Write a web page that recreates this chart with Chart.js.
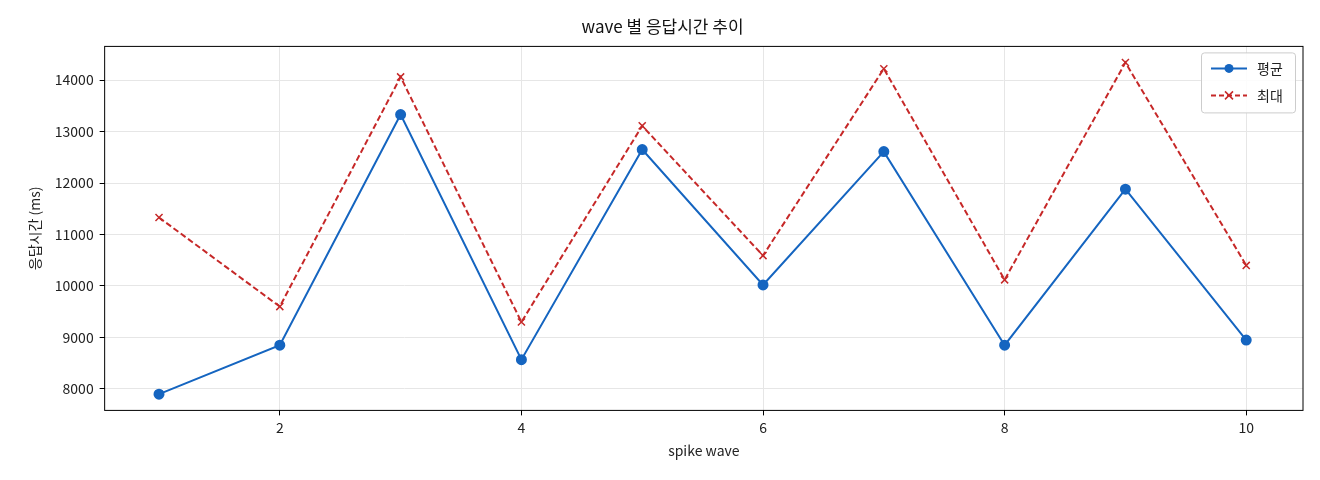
<!DOCTYPE html>
<html>
<head>
<meta charset="utf-8">
<script src="https://cdn.jsdelivr.net/npm/chart.js@4"></script>
<style>
  body { margin: 0; background: #fff; }
  #wrap { width: 1320px; height: 480px; }
</style>
</head>
<body>
<div id="wrap"><canvas id="chart"></canvas></div>
<script>
// wave 별 응답시간 추이

const waves = [1, 2, 3, 4, 5, 6, 7, 8, 9, 10];
const avgMs = [7900, 8850, 13330, 8570, 12650, 10020, 12610, 8850, 11880, 8950];
const maxMs = [11330, 9600, 14060, 9300, 13110, 10590, 14220, 10120, 14340, 10400];
const xTicks = [2, 4, 6, 8, 10];
const yTicks = [8000, 9000, 10000, 11000, 12000, 13000, 14000];

const FONT = "'Noto Sans CJK KR', 'DejaVu Sans', sans-serif";
Chart.defaults.font.family = FONT;
Chart.defaults.color = "#222";

// legend box drawn inside the plot, top right
const insideLegend = {
  id: "insideLegend",
  afterDraw(chart) {
    const ctx = chart.ctx;
    const area = chart.chartArea;
    const w = 94, h = 60;
    const x = area.right - w - 8, y = area.top + 6;
    ctx.save();
    ctx.fillStyle = "rgba(255,255,255,0.85)";
    ctx.strokeStyle = "#ccc";
    ctx.lineWidth = 1;
    ctx.beginPath();
    ctx.roundRect(x + 0.5, y + 0.5, w, h, 3);
    ctx.fill();
    ctx.stroke();

    const items = [
      { label: "평균", color: "#1565c0", dash: [], marker: "dot" },
      { label: "최대", color: "#c62828", dash: [5, 3], marker: "x" }
    ];
    items.forEach((it, i) => {
      const cy = y + 16 + i * 27;
      ctx.strokeStyle = it.color;
      ctx.lineWidth = 2;
      ctx.setLineDash(it.dash);
      ctx.beginPath();
      ctx.moveTo(x + 10, cy);
      ctx.lineTo(x + 46, cy);
      ctx.stroke();
      ctx.setLineDash([]);
      if (it.marker === "dot") {
        ctx.fillStyle = it.color;
        ctx.beginPath();
        ctx.arc(x + 28, cy, 4.5, 0, Math.PI * 2);
        ctx.fill();
      } else {
        ctx.lineWidth = 1.5;
        ctx.beginPath();
        ctx.moveTo(x + 24, cy - 4); ctx.lineTo(x + 32, cy + 4);
        ctx.moveTo(x + 32, cy - 4); ctx.lineTo(x + 24, cy + 4);
        ctx.stroke();
      }
      ctx.fillStyle = "#222";
      ctx.font = "14px " + FONT;
      ctx.textBaseline = "middle";
      ctx.fillText(it.label, x + 56, cy);
    });
    ctx.restore();
  }
};

// black frame around the plot area
const frame = {
  id: "frame",
  afterDraw(chart) {
    const a = chart.chartArea;
    const ctx = chart.ctx;
    ctx.save();
    ctx.strokeStyle = "#000";
    ctx.lineWidth = 1;
    ctx.strokeRect(a.left, a.top, a.right - a.left, a.bottom - a.top);
    ctx.restore();
  }
};

new Chart(document.getElementById("chart"), {
  type: "line",
  data: {
    datasets: [
      {
        label: "평균",
        data: waves.map((w, i) => ({ x: w, y: avgMs[i] })),
        borderColor: "#1565c0",
        backgroundColor: "#1565c0",
        borderWidth: 2,
        pointRadius: 4.5,
        pointStyle: "circle",
        tension: 0
      },
      {
        label: "최대",
        data: waves.map((w, i) => ({ x: w, y: maxMs[i] })),
        borderColor: "#c62828",
        backgroundColor: "#c62828",
        borderWidth: 2,
        borderDash: [6, 3],
        pointRadius: 5,
        pointStyle: "crossRot",
        pointBorderWidth: 1.5,
        tension: 0
      }
    ]
  },
  options: {
    responsive: true,
    maintainAspectRatio: false,
    animation: false,
    layout: { padding: { left: 22, right: 17, top: 6, bottom: 17 } },
    plugins: {
      legend: { display: false },
      tooltip: { enabled: false },
      title: {
        display: true,
        text: "wave 별 응답시간 추이",
        font: { size: 17, weight: "normal" },
        color: "#111",
        padding: { top: 10, bottom: 10 }
      }
    },
    scales: {
      x: {
        type: "linear",
        min: 0.55,
        max: 10.47,
        afterBuildTicks: axis => { axis.ticks = xTicks.map(v => ({ value: v })); },
        ticks: { font: { size: 14 }, color: "#222", padding: 4 },
        grid: { color: "#e6e6e6", tickLength: 5, tickColor: "#000" },
        border: { display: false },
        title: { display: true, text: "spike wave", font: { size: 14 }, color: "#222", padding: { top: 2 } }
      },
      y: {
        min: 7584,
        max: 14653,
        afterBuildTicks: axis => { axis.ticks = yTicks.map(v => ({ value: v })); },
        ticks: { font: { size: 14 }, color: "#222", padding: 6, callback: v => String(v) },
        grid: { color: "#e6e6e6", tickLength: 5, tickColor: "#000" },
        border: { display: false },
        title: { display: true, text: "응답시간 (ms)", font: { size: 14 }, color: "#222", padding: { bottom: 6 } }
      }
    }
  },
  plugins: [frame, insideLegend]
});
</script>
</body>
</html>
